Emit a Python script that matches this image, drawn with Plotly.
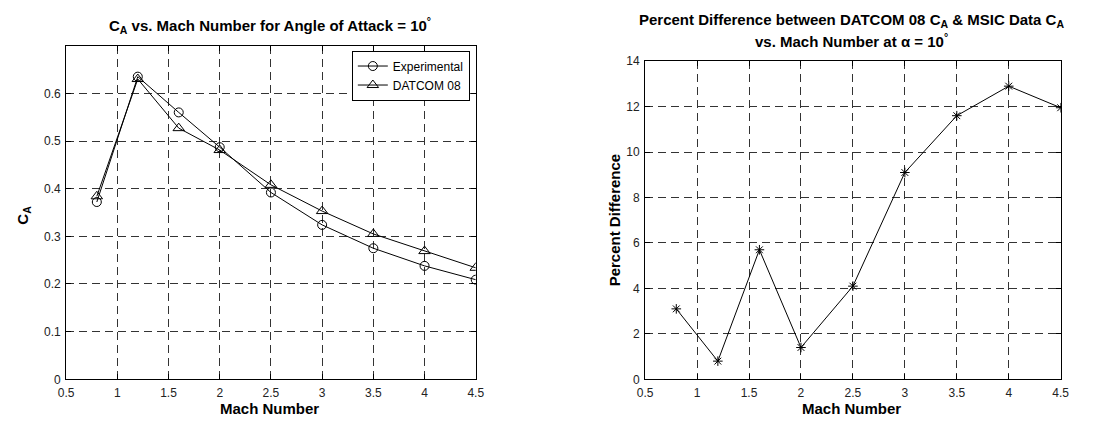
import plotly.graph_objects as go

mach = [0.8, 1.2, 1.6, 2.0, 2.5, 3.0, 3.5, 4.0, 4.5]
ca_experimental = [0.372, 0.635, 0.560, 0.487, 0.392, 0.324, 0.275, 0.238, 0.209]
ca_datcom = [0.384, 0.630, 0.527, 0.481, 0.408, 0.353, 0.305, 0.269, 0.234]
pct_diff = [3.1, 0.8, 5.7, 1.4, 4.1, 9.1, 11.6, 12.9, 11.95]

x_ticks = [0.5, 1, 1.5, 2, 2.5, 3, 3.5, 4, 4.5]
x_tick_text = ["0.5", "1", "1.5", "2", "2.5", "3", "3.5", "4", "4.5"]
y1_ticks = [0, 0.1, 0.2, 0.3, 0.4, 0.5, 0.6]
y1_tick_text = ["0", "0.1", "0.2", "0.3", "0.4", "0.5", "0.6"]
y2_ticks = [0, 2, 4, 6, 8, 10, 12, 14]
y2_tick_text = ["0", "2", "4", "6", "8", "10", "12", "14"]

W, H = 1114, 425
FONT = "Liberation Sans, Arial, sans-serif"

fig = go.Figure()
fig.add_trace(go.Scatter(x=mach, y=ca_experimental, mode="lines+markers", name="Experimental",
                         line=dict(color="black", width=1),
                         marker=dict(symbol="circle-open", size=9, color="black", line=dict(width=1)),
                         xaxis="x", yaxis="y"))
fig.add_trace(go.Scatter(x=mach, y=ca_datcom, mode="lines+markers", name="DATCOM 08",
                         line=dict(color="black", width=1),
                         marker=dict(symbol="triangle-up-open", size=10, color="black", line=dict(width=1)),
                         xaxis="x", yaxis="y"))
fig.add_trace(go.Scatter(x=mach, y=pct_diff, mode="lines+markers", name="Percent Difference",
                         line=dict(color="black", width=1),
                         marker=dict(symbol="asterisk-open", size=8, color="black", line=dict(width=1, color="black")),
                         xaxis="x2", yaxis="y2", showlegend=False))

def px_x(p):
    return p / W

def px_y(p):
    return 1 - p / H

axis_common = dict(
    showline=True, linecolor="black", linewidth=1, mirror="ticks",
    ticks="inside", ticklen=5, tickcolor="black",
    showgrid=True, gridcolor="#333", gridwidth=1, griddash="8px,5px",
    zeroline=False, tickfont=dict(family=FONT, size=12, color="#222"),
)

fig.update_layout(
    width=W, height=H,
    margin=dict(l=0, r=0, t=0, b=0),
    paper_bgcolor="white", plot_bgcolor="white",
    font=dict(family=FONT, color="black"),
    xaxis=dict(domain=[px_x(59), px_x(475)], range=[0.5, 4.5], tickvals=x_ticks, ticktext=x_tick_text,
               anchor="y", ticklabelstandoff=2, **axis_common),
    yaxis=dict(domain=[px_y(385), px_y(40)], range=[0, 0.7], tickvals=y1_ticks, ticktext=y1_tick_text,
               anchor="x", ticklabelstandoff=2, **axis_common),
    xaxis2=dict(domain=[px_x(647), px_x(1069)], range=[0.5, 4.5], tickvals=x_ticks, ticktext=x_tick_text,
                anchor="y2", ticklabelstandoff=2, **axis_common),
    yaxis2=dict(domain=[px_y(385), px_y(56)], range=[0, 14], tickvals=y2_ticks, ticktext=y2_tick_text,
                anchor="x2", ticklabelstandoff=2, **axis_common),
    legend=dict(x=px_x(469), y=px_y(45), xanchor="right", yanchor="top",
                bordercolor="black", borderwidth=1, bgcolor="white",
                font=dict(family=FONT, size=12, color="black"),
                tracegroupgap=0, itemwidth=30),
    showlegend=True,
)

def label(text, x, y, size=15, angle=0):
    return dict(text=text, x=px_x(x), y=px_y(y), xref="paper", yref="paper", showarrow=False,
                xanchor="center", yanchor="middle", textangle=angle,
                font=dict(family=FONT, size=size, color="black"))

ann = [
    label("<b>C<sub>A</sub> vs. Mach Number for Angle of Attack = 10<sup>°</sup></b>", 266, 19),
    label("<b>Percent Difference between DATCOM 08 C<sub>A</sub> &amp; MSIC Data C<sub>A</sub></b>", 857, 14),
    label("<b>vs. Mach Number at α = 10<sup>°</sup></b>", 857, 35),
    label("<b>Mach Number</b>", 266, 415),
    label("<b>Mach Number</b>", 857, 415),
    label("<b>C<sub>A</sub></b>", 16, 215, 15, -90),
    label("<b>Percent Difference</b>", 616, 220, 15, -90),
]
fig.update_layout(annotations=ann)

post = ("document.documentElement.style.margin='0';document.documentElement.style.padding='0';"
        "document.documentElement.style.overflow='hidden';"
        "document.body.style.margin='0';document.body.style.padding='0';document.body.style.overflow='hidden';")
fig.write_html("out.html", post_script=post, config={"displayModeBar": False})
